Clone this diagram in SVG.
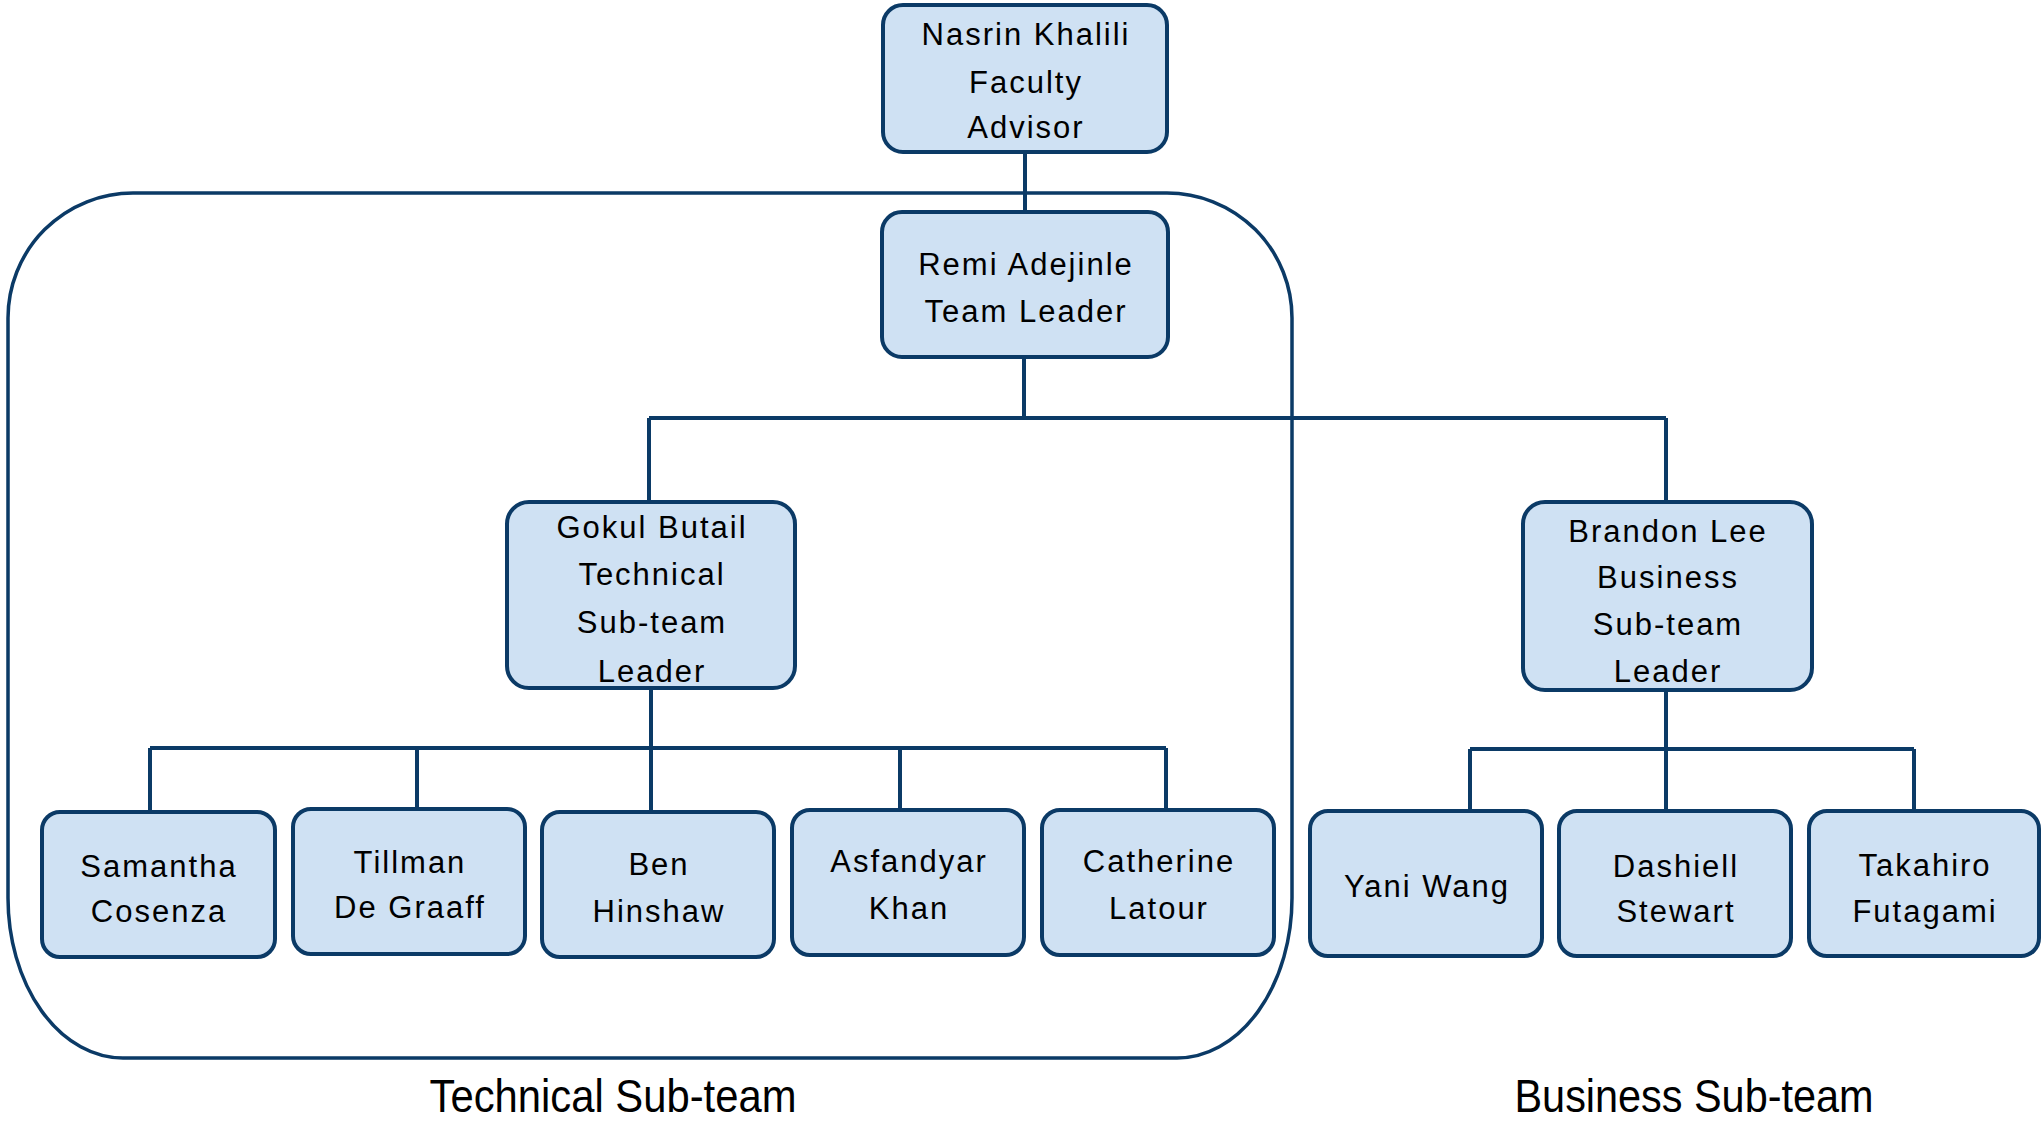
<svg xmlns="http://www.w3.org/2000/svg" width="2042" height="1121" viewBox="0 0 2042 1121">
<style>
.box{fill:#cfe1f3;stroke:#0b3a66;stroke-width:4}
.ln{fill:none;stroke:#0b3a66;stroke-width:4}
.grp{fill:none;stroke:#0b3a66;stroke-width:3.5}
.t{font-family:"Liberation Sans",Arial,sans-serif;font-size:31px;fill:#000;text-anchor:middle;letter-spacing:2px}
.lab{font-family:"Liberation Sans",Arial,sans-serif;font-size:46px;fill:#000;text-anchor:middle}
</style>
<rect width="2042" height="1121" fill="#fff"/>
<g id="technical-subteam-frame">
<path class="grp" d="M8 318 A125 125 0 0 1 133 193 L1167 193 A125 125 0 0 1 1292 318 L1292 898 A115 160 0 0 1 1177 1058 L123 1058 A115 160 0 0 1 8 898 Z"/>
</g>
<g id="connectors">
<path class="ln" d="M1025 152 V212"/>
<path class="ln" d="M1024 357 V418 M649 418 H1666 M649 418 V502 M1666 418 V502"/>
<path class="ln" d="M651 688 V812 M150 748 H1166 M150 748 V812 M417 748 V809 M900 748 V810 M1166 748 V810"/>
<path class="ln" d="M1666 690 V811 M1470 749 H1914 M1470 749 V811 M1914 749 V811"/>
</g>
<g id="nasrin"><rect class="box" x="883" y="5" width="284" height="147" rx="20"/>
<text class="t" x="1026" y="45">Nasrin Khalili</text><text class="t" x="1026" y="93">Faculty</text><text class="t" x="1026" y="138">Advisor</text></g>
<g id="remi"><rect class="box" x="882" y="212" width="286" height="145" rx="20"/>
<text class="t" x="1026" y="275">Remi Adejinle</text><text class="t" x="1026" y="322">Team Leader</text></g>
<g id="gokul"><rect class="box" x="507" y="502" width="288" height="186" rx="22"/>
<text class="t" x="652" y="538">Gokul Butail</text><text class="t" x="652" y="585">Technical</text><text class="t" x="652" y="633">Sub-team</text><text class="t" x="652" y="682">Leader</text></g>
<g id="brandon"><rect class="box" x="1523" y="502" width="289" height="188" rx="22"/>
<text class="t" x="1668" y="542">Brandon Lee</text><text class="t" x="1668" y="588">Business</text><text class="t" x="1668" y="635">Sub-team</text><text class="t" x="1668" y="682">Leader</text></g>
<g id="samantha"><rect class="box" x="42" y="812" width="233" height="145" rx="18"/>
<text class="t" x="159" y="877">Samantha</text><text class="t" x="159" y="922">Cosenza</text></g>
<g id="tillman"><rect class="box" x="293" y="809" width="232" height="145" rx="18"/>
<text class="t" x="410" y="873">Tillman</text><text class="t" x="410" y="918">De Graaff</text></g>
<g id="ben"><rect class="box" x="542" y="812" width="232" height="145" rx="18"/>
<text class="t" x="659" y="875">Ben</text><text class="t" x="659" y="922">Hinshaw</text></g>
<g id="asfandyar"><rect class="box" x="792" y="810" width="232" height="145" rx="18"/>
<text class="t" x="909" y="872">Asfandyar</text><text class="t" x="909" y="919">Khan</text></g>
<g id="catherine"><rect class="box" x="1042" y="810" width="232" height="145" rx="18"/>
<text class="t" x="1159" y="872">Catherine</text><text class="t" x="1159" y="919">Latour</text></g>
<g id="yani"><rect class="box" x="1310" y="811" width="232" height="145" rx="18"/>
<text class="t" x="1427" y="897">Yani Wang</text></g>
<g id="dashiell"><rect class="box" x="1559" y="811" width="232" height="145" rx="18"/>
<text class="t" x="1676" y="877">Dashiell</text><text class="t" x="1676" y="922">Stewart</text></g>
<g id="takahiro"><rect class="box" x="1809" y="811" width="230" height="145" rx="18"/>
<text class="t" x="1925" y="876">Takahiro</text><text class="t" x="1925" y="922">Futagami</text></g>
<g id="labels">
<text class="lab" x="613" y="1112" textLength="367" lengthAdjust="spacingAndGlyphs">Technical Sub-team</text>
<text class="lab" x="1694" y="1112" textLength="359" lengthAdjust="spacingAndGlyphs">Business Sub-team</text>
</g>
</svg>
